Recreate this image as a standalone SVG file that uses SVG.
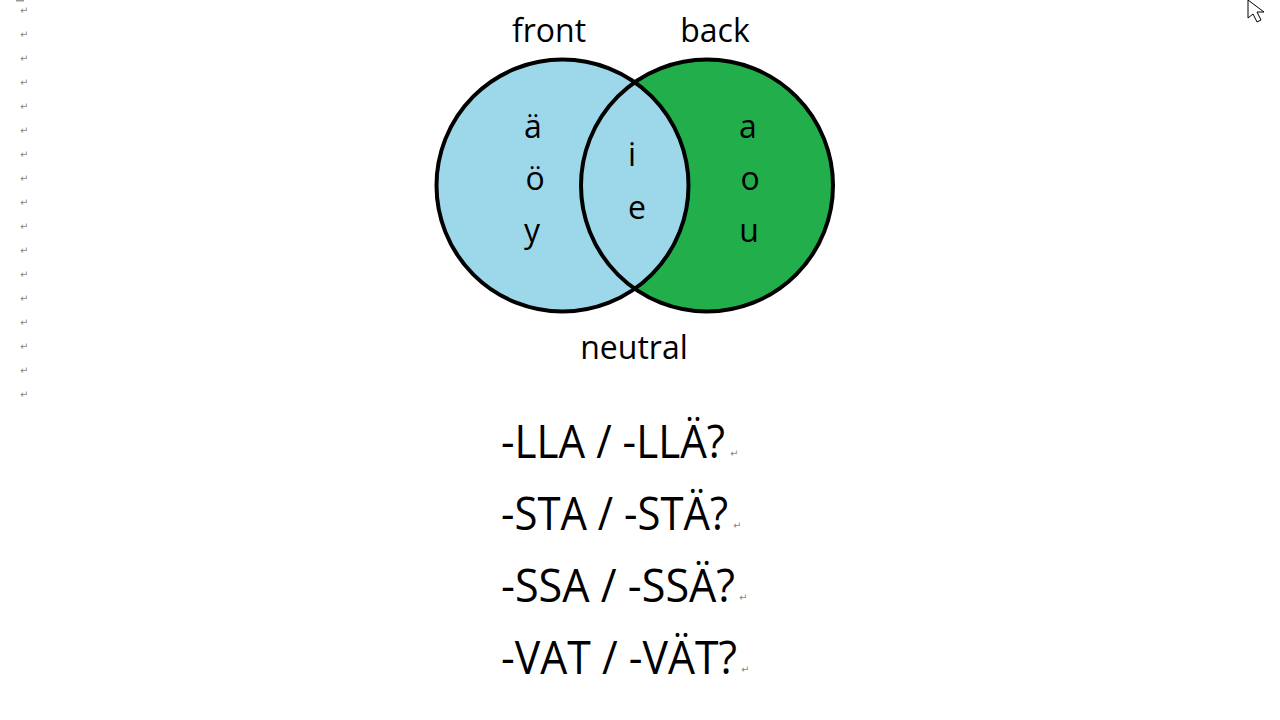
<svg xmlns="http://www.w3.org/2000/svg" width="1280" height="720" viewBox="0 0 1280 720">
<style>
.lbl{font-family:"Open Sans","Noto Sans","Liberation Sans",sans-serif;font-size:32px;fill:#000;text-anchor:middle}
.big{font-family:"Open Sans","Noto Sans","Liberation Sans",sans-serif;font-size:45px;fill:#000}
.pm{font-family:"DejaVu Sans","Liberation Sans",sans-serif;font-size:10px;fill:#888}
.ring{fill:none;stroke:#000;stroke-width:4}
</style>
<rect width="1280" height="720" fill="#fff"/>
<g id="margin-marks">
<rect x="16" y="0" width="8" height="1.5" fill="#999"/>
<text class="pm" x="20" y="14">↵</text>
<text class="pm" x="20" y="38">↵</text>
<text class="pm" x="20" y="62">↵</text>
<text class="pm" x="20" y="86">↵</text>
<text class="pm" x="20" y="110">↵</text>
<text class="pm" x="20" y="134">↵</text>
<text class="pm" x="20" y="158">↵</text>
<text class="pm" x="20" y="182">↵</text>
<text class="pm" x="20" y="206">↵</text>
<text class="pm" x="20" y="230">↵</text>
<text class="pm" x="20" y="254">↵</text>
<text class="pm" x="20" y="278">↵</text>
<text class="pm" x="20" y="302">↵</text>
<text class="pm" x="20" y="326">↵</text>
<text class="pm" x="20" y="350">↵</text>
<text class="pm" x="20" y="374">↵</text>
<text class="pm" x="20" y="398">↵</text>
</g>
<g id="cursor">
<polygon points="1248,0 1248,18 1253,14 1257,22 1261,20 1257,12 1264,12" fill="#fff" stroke="#000" stroke-width="1"/>
</g>
<g id="venn">
<circle cx="707" cy="185.5" r="126" fill="#22AE4A"/>
<circle cx="562.5" cy="185.5" r="126" fill="#9DD8EA"/>
<circle class="ring" cx="707" cy="185.5" r="126"/>
<circle class="ring" cx="562.5" cy="185.5" r="126"/>
</g>
<g id="front"><text class="lbl" x="549" y="42">front</text>
<text class="lbl" x="533" y="138">ä</text>
<text class="lbl" x="535" y="190">ö</text>
<text class="lbl" x="532" y="242">y</text></g>
<g id="neutral"><text class="lbl" x="632" y="166">i</text>
<text class="lbl" x="637" y="219">e</text>
<text class="lbl" x="634" y="359">neutral</text></g>
<g id="back"><text class="lbl" x="715" y="42">back</text>
<text class="lbl" x="748" y="138">a</text>
<text class="lbl" x="750" y="190">o</text>
<text class="lbl" x="749" y="242">u</text></g>
<g id="questions">
<text class="big" x="501" y="458" textLength="224" lengthAdjust="spacingAndGlyphs">-LLA / -LLÄ?</text>
<text class="big" x="501" y="530" textLength="227" lengthAdjust="spacingAndGlyphs">-STA / -STÄ?</text>
<text class="big" x="501" y="602" textLength="234" lengthAdjust="spacingAndGlyphs">-SSA / -SSÄ?</text>
<text class="big" x="501" y="674" textLength="236" lengthAdjust="spacingAndGlyphs">-VAT / -VÄT?</text>
<text class="pm" x="730" y="457">↵</text>
<text class="pm" x="733" y="529">↵</text>
<text class="pm" x="739" y="601">↵</text>
<text class="pm" x="741" y="673">↵</text>
</g>
</svg>
